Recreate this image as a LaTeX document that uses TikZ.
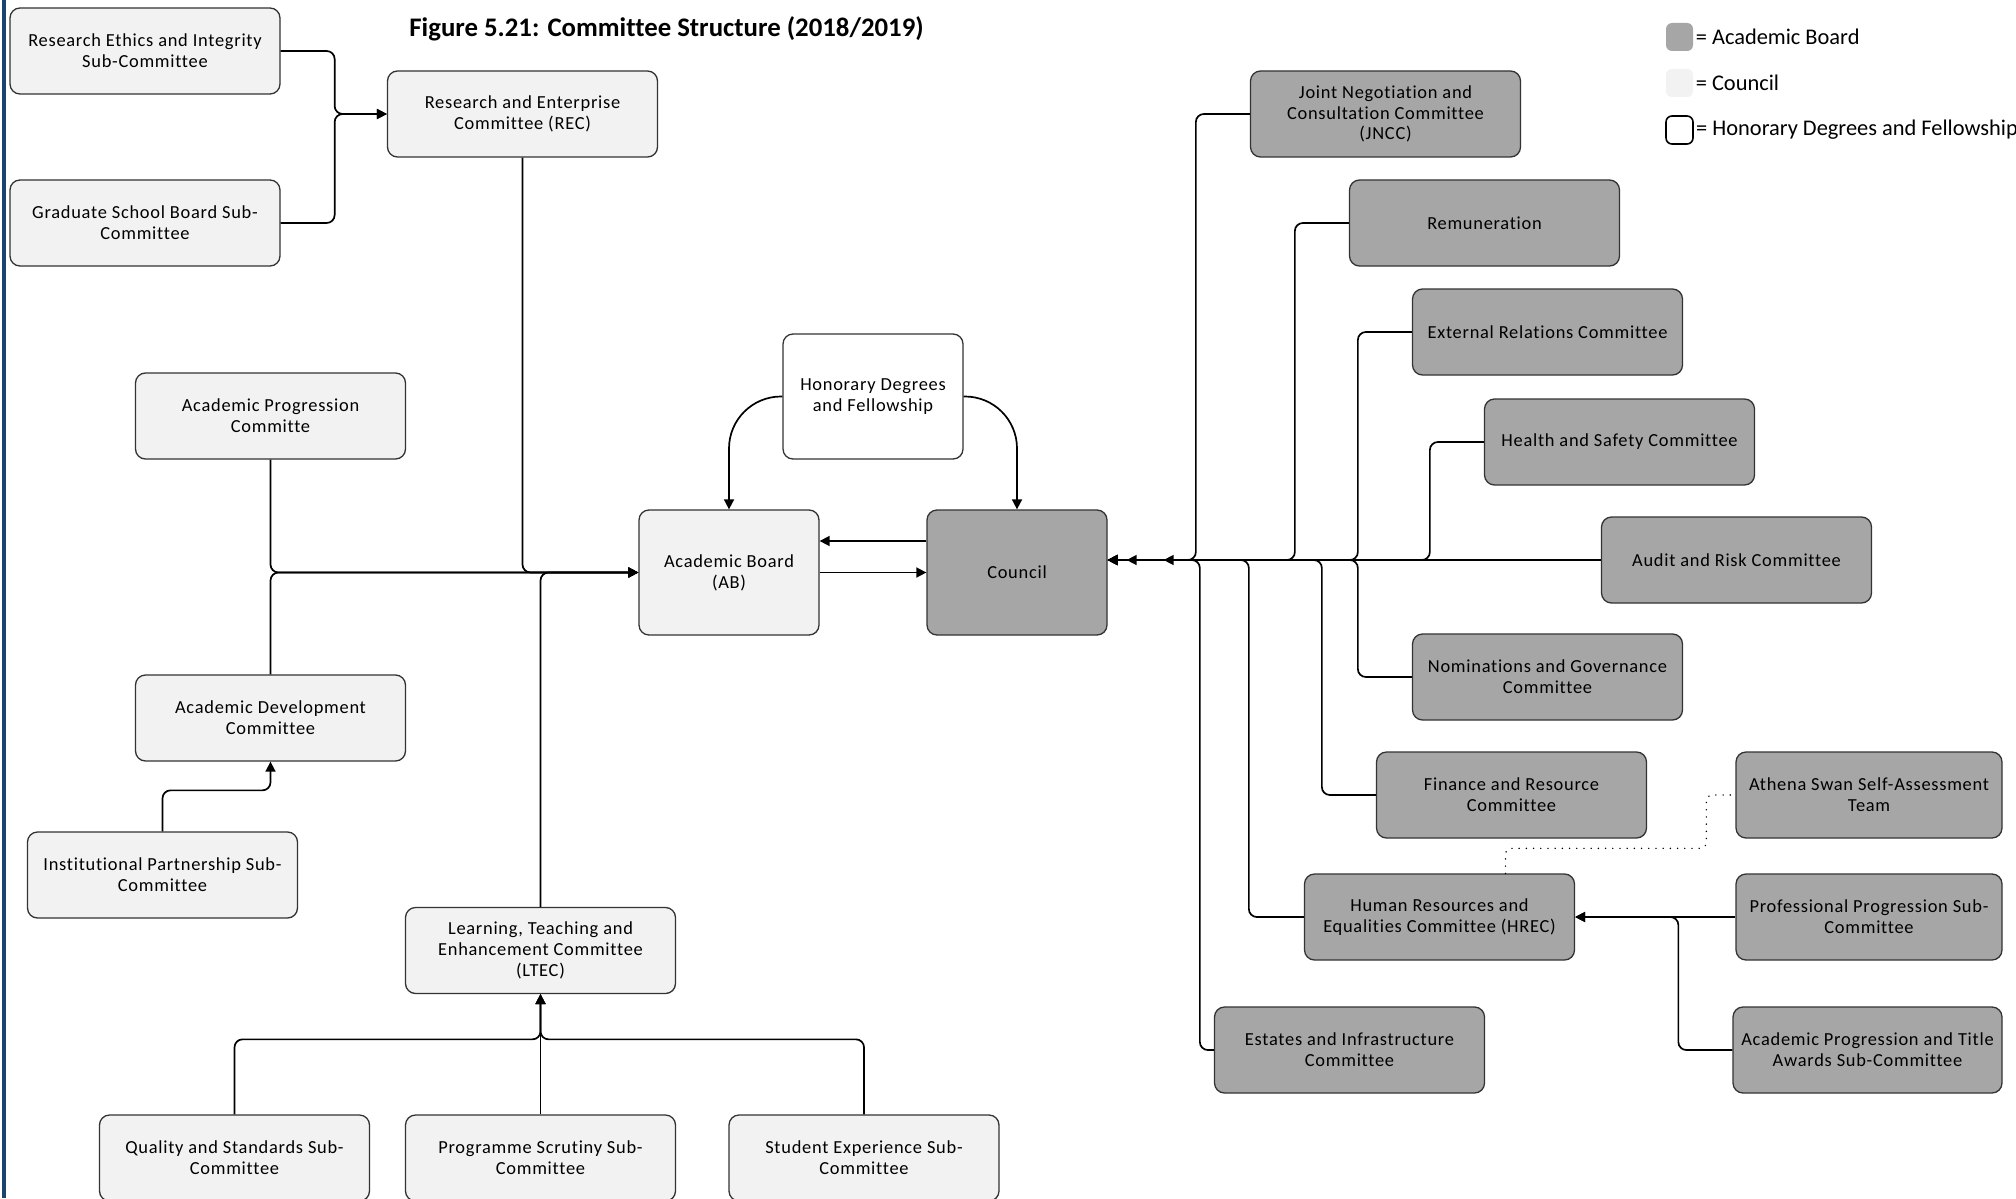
\documentclass[tikz,border=0pt]{standalone}
\usepackage{fontspec}
\setmainfont{Carlito}[Ligatures={NoCommon}]
\newfontfamily\boxfont[LetterSpace=4,Ligatures={NoCommon}]{Carlito}
\usetikzlibrary{arrows.meta,calc}
\definecolor{darkbox}{HTML}{A6A6A6}
\definecolor{lightbox}{HTML}{F2F2F2}
\definecolor{edge}{HTML}{333333}
\definecolor{sideband}{HTML}{1B4371}
\begin{document}
\begin{tikzpicture}[x=0.5pt,y=-0.5pt,
  box/.style={draw=edge, line width=0.65pt, rounded corners=5pt, align=center,
    font=\boxfont\fontsize{9.2}{10.4}\selectfont, inner sep=0pt,
    minimum width=135pt, minimum height=43pt},
  lt/.style={box, fill=lightbox},
  dk/.style={box, fill=darkbox},
  big/.style={minimum width=90pt, minimum height=62.5pt},
  conn/.style={line width=0.85pt, rounded corners=4pt},
  arr/.style={conn, -{Triangle[length=5pt,width=5pt]}},
  dotline/.style={line width=0.8pt, line cap=round, dash pattern=on 0pt off 3.6pt, rounded corners=3pt},
  legsq/.style={minimum width=13.5pt, minimum height=14pt, rounded corners=3pt, inner sep=0pt},
  legtxt/.style={font=\fontsize{11.2}{13}\selectfont, inner sep=1pt, anchor=west}
]
\fill[white] (0,0) rectangle (2016,1198);
\useasboundingbox (0,0) rectangle (2016,1198);
\fill[sideband] (1.5,0) rectangle (5.5,1198);

% title
\node[anchor=base west, inner sep=0pt, font=\bfseries\fontsize{13.4}{16}\selectfont] (title) at (409,37) {Figure 5.21: Committee Structure (2018/2019)};

% legend
\node[legsq, fill=darkbox] (lg1) at (1679.5,37) {};
\node[legtxt] (lt1) at (lg1.east) {= Academic Board};
\node[legsq, fill=lightbox] (lg2) at (1679.5,83) {};
\node[legtxt] (lt2) at (lg2.east) {= Council};
\node[legsq, fill=white, draw=black, line width=0.8pt] (lg3) at (1679.5,130) {};
\node[legtxt] (lt3) at (lg3.east) {= Honorary Degrees and Fellowship};

% left side
\node[lt] (rei) at (145,51) {Research Ethics and Integrity\\Sub-Committee};
\node[lt] (gsb) at (145,223) {Graduate School Board Sub-\\Committee};
\node[lt] (rec) at (522.5,114) {Research and Enterprise\\Committee (REC)};
\node[lt] (apc) at (270.5,416) {Academic Progression\\Committe};
\node[lt] (adc) at (270.5,718) {Academic Development\\Committee};
\node[lt] (ips) at (162.5,875) {Institutional Partnership Sub-\\Committee};
\node[lt] (ltec) at (540.5,950.5) {Learning, Teaching and\\Enhancement Committee\\(LTEC)};
\node[lt] (qss) at (234.5,1158) {Quality and Standards Sub-\\Committee};
\node[lt] (pss) at (540.5,1158) {Programme Scrutiny Sub-\\Committee};
\node[lt] (ses) at (864,1158) {Student Experience Sub-\\Committee};

% centre
\node[box,big,fill=white] (hdf) at (873,396.5) {Honorary Degrees\\and Fellowship};
\node[lt,big] (ab) at (729,572.5) {Academic Board\\(AB)};
\node[dk,big] (council) at (1017,572.5) {Council};

% right side
\node[dk] (jncc) at (1385.5,114) {Joint Negotiation and\\Consultation Committee\\(JNCC)};
\node[dk] (rem) at (1484.5,223) {Remuneration};
\node[dk] (erc) at (1547.5,332) {External Relations Committee};
\node[dk] (hsc) at (1619.5,442) {Health and Safety Committee};
\node[dk] (arc) at (1736.5,560) {Audit and Risk Committee};
\node[dk] (ngc) at (1547.5,677) {Nominations and Governance\\Committee};
\node[dk] (frc) at (1511.5,795) {Finance and Resource\\Committee};
\node[dk, minimum width=133pt] (ass) at (1869,795) {Athena Swan Self-Assessment\\Team};
\node[dk] (hrec) at (1439.5,917) {Human Resources and\\Equalities Committee (HREC)};
\node[dk, minimum width=133pt] (pps) at (1869,917) {Professional Progression Sub-\\Committee};
\node[dk] (eic) at (1349.5,1050) {Estates and Infrastructure\\Committee};
\node[dk, minimum width=134.5pt] (apt) at (1867.5,1050) {Academic Progression and Title\\Awards Sub-Committee};

% left connectors
\draw[arr] (rei.east) -- ++(54,0) |- (rec.west);
\draw[arr] (gsb.east) -- ++(54,0) |- (rec.west);
\draw[arr] (rec.south) |- (ab.west);
\draw[arr] (apc.south) |- (ab.west);
\draw[arr] (adc.north) |- (ab.west);
\draw[arr] (ltec.north) |- (ab.west);
\draw[arr] (ips.north) -- ++(0,-41) -| (adc.south);
\draw[arr] (qss.north) -- ++(0,-75) -| (ltec.south);
\draw[arr] (pss.north) -- (ltec.south);
\draw[arr] (ses.north) -- ++(0,-75) -| (ltec.south);

% centre connectors
\draw[arr, rounded corners=26pt] (hdf.west) -| (ab.north);
\draw[arr, rounded corners=26pt] (hdf.east) -| (council.north);
\draw[arr] ($(council.west)+(0,-31.5)$) -- ($(ab.east)+(0,-31.5)$);
\draw[arr] (ab.east) -- (council.west);

% right connectors
\coordinate (cin) at (council.east |- arc.west);
\draw[arr, shorten >=28pt] (jncc.west) -- ++(-54,0) |- (cin);
\draw[arr] (rem.west) -- ++(-54,0) |- (cin);
\draw[arr] (erc.west) -- ++(-54,0) |- (cin);
\draw[arr] (hsc.west) -- ++(-54,0) |- (cin);
\draw[arr] (arc.west) -- (cin);
\draw[arr] (ngc.west) -- ++(-54,0) |- (cin);
\draw[arr] (frc.west) -- ++(-54,0) |- (cin);
\draw[arr] (hrec.west) -- ++(-55,0) |- (cin);
\draw[arr, shorten >=9.5pt] (eic.west) -- ++(-14,0) |- (cin);

\draw[arr] (pps.west) -- (hrec.east);
\draw[arr] (apt.west) -- ++(-54,0) |- (hrec.east);
\draw[dotline] ($(hrec.north)+(66,0)$) -- ++(0,-25) -| ($(ass.west)+(-29,0)$) -- (ass.west);
\end{tikzpicture}
\end{document}
